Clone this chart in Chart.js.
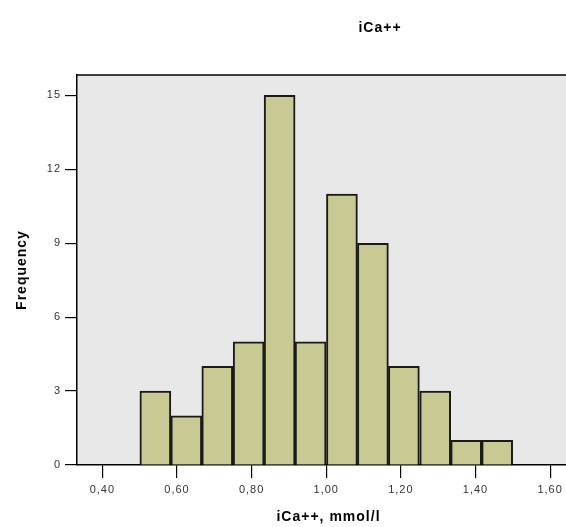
<!DOCTYPE html>
<html>
<head>
<meta charset="utf-8">
<script src="https://cdn.jsdelivr.net/npm/chart.js@4/dist/chart.umd.min.js"></script>
<style>
  html, body { margin: 0; padding: 0; background: #ffffff; overflow: hidden; }
  #wrap { width: 566px; height: 527px; overflow: hidden; }
</style>
</head>
<body>
<div id="wrap"><canvas id="hist" width="580" height="527"></canvas></div>
<script>
// histogram bins (centres, mmol/l) and counts
const binCenters = [0.542, 0.625, 0.708, 0.792, 0.875, 0.958, 1.042, 1.125, 1.208, 1.292, 1.375, 1.458];
const counts = [3, 2, 4, 5, 15, 5, 11, 9, 4, 3, 1, 1];
const xTicks = [0.4, 0.6, 0.8, 1.0, 1.2, 1.4, 1.6];
const yTicks = [0, 3, 6, 9, 12, 15];

const canvas = document.getElementById("hist");
const FONT = "'Liberation Sans', Arial, sans-serif";

// light grey plot panel with a black top edge, plus the chart title
const panelPlugin = {
  id: "panel",
  beforeDraw(chart) {
    const { ctx, chartArea: a } = chart;
    ctx.letterSpacing = "1px"; // the original text is rendered rather wide
    ctx.save();
    ctx.fillStyle = "#e8e8e8";
    ctx.fillRect(a.left, a.top, a.right - a.left, a.bottom - a.top);
    ctx.strokeStyle = "#000";
    ctx.lineWidth = 1.5;
    ctx.beginPath();
    ctx.moveTo(a.left, a.top);
    ctx.lineTo(a.right, a.top);
    ctx.stroke();
    ctx.restore();
  },
  afterDraw(chart) {
    const ctx = chart.ctx;
    ctx.save();
    ctx.font = "bold 14px " + FONT;
    ctx.fillStyle = "#000";
    ctx.textAlign = "center";
    ctx.textBaseline = "middle";
    ctx.fillText("iCa++", 380, 28);
    ctx.restore();
  }
};

new Chart(canvas, {
  type: "bar",
  data: {
    datasets: [{
      data: binCenters.map((x, i) => ({ x: x, y: counts[i] })),
      backgroundColor: "#c9c994",
      borderColor: "#1a1a1a",
      borderWidth: 2,
      barPercentage: 1,
      categoryPercentage: 1
    }]
  },
  options: {
    responsive: false,
    animation: false,
    layout: { padding: { top: 75, left: 0, right: 0, bottom: 0 } },
    plugins: {
      legend: { display: false },
      tooltip: { enabled: false },
      title: { display: false }
    },
    scales: {
      x: {
        type: "linear",
        min: 0.332,
        max: 1.68,
        offset: false,
        afterBuildTicks: s => { s.ticks = xTicks.map(v => ({ value: v })); },
        afterFit: s => { s.height = 62; },
        grid: { offset: false, drawOnChartArea: false, tickLength: 13, color: "#000", lineWidth: 1.2 },
        border: { display: true, color: "#000", width: 1.5 },
        ticks: {
          color: "#333",
          padding: 5,
          maxRotation: 0,
          font: { family: FONT, size: 11 },
          callback: v => v.toFixed(2).replace(".", ",")
        },
        title: {
          display: true,
          text: "iCa++, mmol/l",
          color: "#000",
          padding: { top: 0, bottom: 1 },
          font: { family: FONT, size: 14, weight: "bold" }
        }
      },
      y: {
        min: 0,
        max: 15.83,
        afterBuildTicks: s => { s.ticks = yTicks.map(v => ({ value: v })); },
        afterFit: s => { s.width = 77; },
        grid: { drawOnChartArea: false, tickLength: 12, color: "#000", lineWidth: 1.2 },
        border: { display: true, color: "#000", width: 1.5 },
        ticks: {
          color: "#333",
          padding: 4,
          font: { family: FONT, size: 11 }
        },
        title: {
          display: true,
          text: "Frequency",
          color: "#000",
          padding: { top: 14, bottom: 0 },
          font: { family: FONT, size: 14, weight: "bold" }
        }
      }
    }
  },
  plugins: [panelPlugin]
});
</script>
</body>
</html>
